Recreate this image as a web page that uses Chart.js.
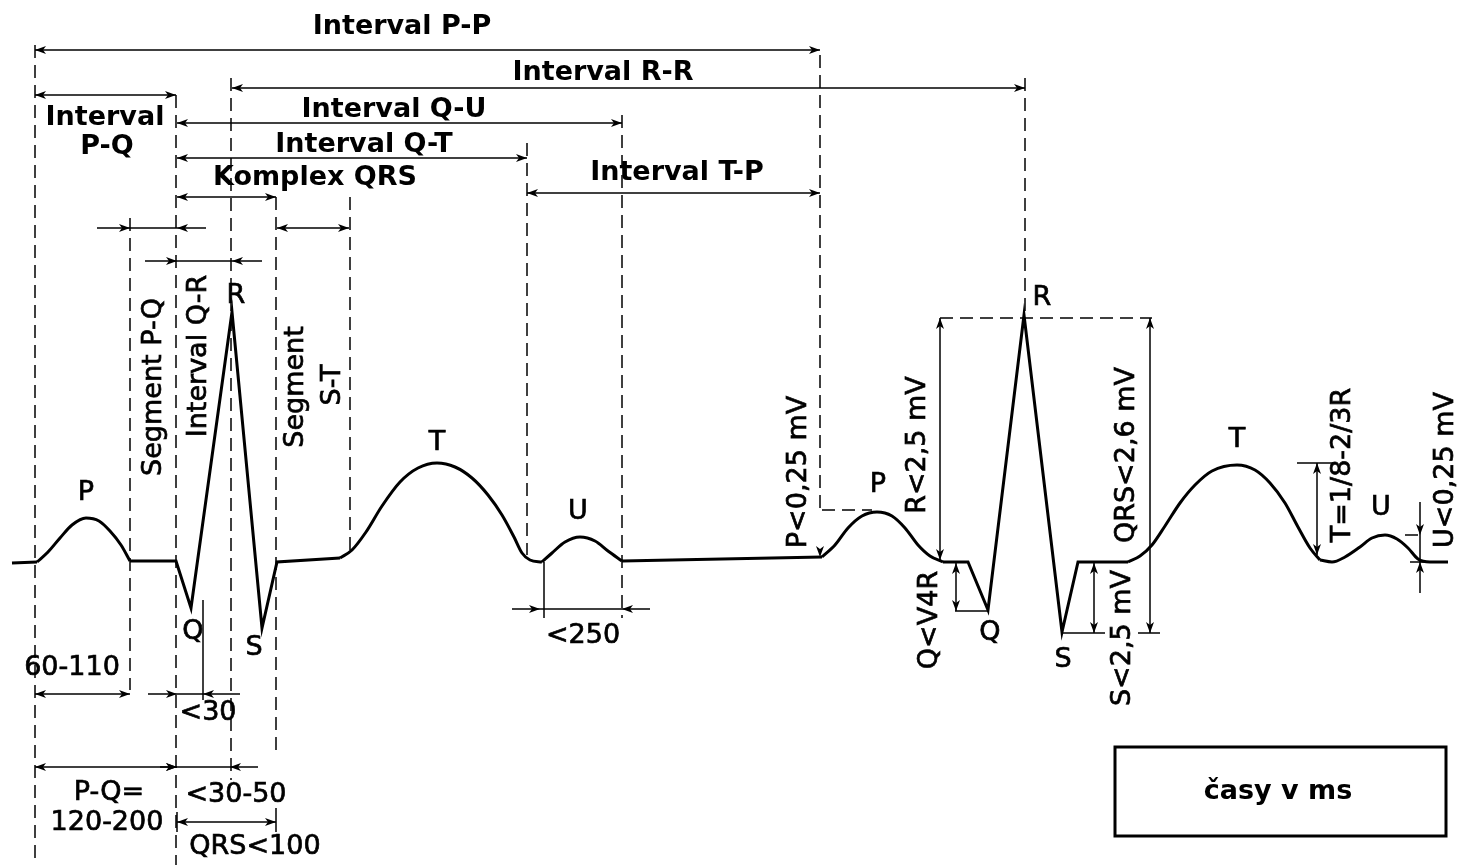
<!DOCTYPE html>
<html lang="cs">
<head>
<meta charset="utf-8">
<title>EKG křivka</title>
<script src="https://cdn.jsdelivr.net/npm/chart.js@4.4.1/dist/chart.umd.min.js"></script>
<style>
  html, body { margin: 0; padding: 0; background: #fff; }
  #ekg { display: block; }
</style>
</head>
<body>
<canvas id="ekg" width="1464" height="865"></canvas>
<script>
// Body křivky EKG (x = čas, y = výchylka v souřadnicích obrázku, osa y je otočená)
const bazeZacatek = [[12, 563], [37, 562]];
const vlnaP1 = [[37, 562], [48, 552], [60, 538], [72, 525], [86, 518], [99, 521], [110, 531], [121, 545], [130, 561]];
const kmitQRS1 = [[130, 561], [176, 561], [191, 608], [232, 312], [262, 628], [277, 562], [340, 558]];
const vlnaT1 = [[340, 558], [352, 550], [366, 532], [382, 506], [400, 482], [418, 468], [437, 463], [455, 467], [472, 478], [488, 495], [502, 515], [514, 537], [522, 553], [530, 560], [542, 562]];
const vlnaU1 = [[542, 562], [552, 553], [565, 542], [580, 537], [595, 541], [608, 551], [622, 561]];
const izolinie = [[622, 561], [822, 557]];
const vlnaP2 = [[822, 557], [835, 545], [848, 528], [862, 516], [877, 512], [892, 516], [905, 528], [918, 545], [930, 556], [943, 562]];
const kmitQRS2 = [[943, 562], [968, 562], [988, 610], [1024, 315], [1062, 632], [1078, 562], [1128, 562]];
const vlnaT2 = [[1128, 562], [1140, 556], [1152, 545], [1165, 526], [1180, 503], [1195, 485], [1212, 471], [1237, 465], [1255, 470], [1270, 483], [1285, 503], [1298, 527], [1310, 548], [1320, 560]];
const vlnaU2 = [[1320, 560], [1332, 562], [1345, 557], [1360, 547], [1372, 538], [1385, 535], [1397, 539], [1408, 548], [1418, 559], [1430, 562], [1448, 562]];

const useky = [
    { body: bazeZacatek, hladky: false },
    { body: vlnaP1, hladky: true },
    { body: kmitQRS1, hladky: false },
    { body: vlnaT1, hladky: true },
    { body: vlnaU1, hladky: true },
    { body: izolinie, hladky: false },
    { body: vlnaP2, hladky: true },
    { body: kmitQRS2, hladky: false },
    { body: vlnaT2, hladky: true },
    { body: vlnaU2, hladky: true },
];

// Svislé čárkované pomocné čáry: [x, od y, do y]
const svisleCarkovane = [
    [35, 45, 865], [130, 218, 690], [176, 95, 865], [231, 78, 780], [276, 197, 750],
    [350, 197, 555], [527, 143, 555], [622, 115, 618], [820, 55, 510], [1025, 78, 318]
];
// Vodorovné čárkované čáry: [x1, x2, y]
const vodorovneCarkovane = [[940, 1152, 318], [822, 872, 510], [1323, 1336, 463], [1405, 1425, 535]];
// Plné pomocné čáry: [x1, y1, x2, y2]
const plneCary = [
    [203, 600, 203, 700], [544, 562, 544, 618], [955, 611, 988, 611], [1062, 633, 1105, 633],
    [1138, 633, 1160, 633], [1297, 463, 1323, 463], [1410, 562, 1432, 562], [276, 808, 276, 832],
    [177, 812, 177, 832]
];

// Vodorovné kóty: [y, x1, x2, vnitřní šipky?, začátek čáry, konec čáry]
const kotyVodorovne = [
    [50, 35, 820, true], [88, 232, 1025, true], [95, 35, 176, true], [123, 177, 622, true],
    [158, 177, 527, true], [197, 177, 276, true], [193, 527, 820, true],
    [228, 130, 177, false, 97, 206], [228, 277, 349, true], [261, 177, 232, false, 145, 262],
    [694, 35, 130, true], [694, 177, 203, false, 148, 240], [767, 35, 177, true],
    [767, 177, 230, false, 160, 258], [822, 177, 276, true], [609, 540, 622, false, 512, 650]
];
// Svislé kóty: [x, y1, y2, vnitřní šipky?, začátek čáry, konec čáry]
const kotySvisle = [
    [940, 318, 560, true], [1150, 318, 633, true], [956, 563, 611, true], [1094, 563, 633, true],
    [1317, 463, 555, true], [1420, 535, 562, false, 502, 593]
];
// Jednotlivé šipky: [x, y, směr x, směr y]
const samostatneSipky = [[820, 557, 0, 1]];

// Texty: [text, x, y, tučně?]
const textyVodorovne = [
    ['Interval P-P', 402, 27, true], ['Interval R-R', 603, 73, true], ['Interval', 105, 118, true],
    ['P-Q', 107, 147, true], ['Interval Q-U', 394, 110, true], ['Interval Q-T', 364, 145, true],
    ['Komplex QRS', 315, 178, true], ['Interval T-P', 677, 173, true],
    ['60-110', 72, 668, false], ['<30', 208, 713, false], ['P-Q=', 109, 793, false],
    ['120-200', 107, 823, false], ['<30-50', 236, 795, false], ['QRS<100', 255, 847, false],
    ['<250', 583, 636, false],
    ['P', 86, 493, false], ['R', 236, 296, false], ['Q', 193, 632, false], ['S', 254, 648, false],
    ['T', 437, 443, false], ['U', 578, 512, false], ['P', 878, 485, false], ['R', 1042, 298, false],
    ['Q', 990, 633, false], ['S', 1063, 660, false], ['T', 1237, 440, false], ['U', 1381, 508, false],
    ['časy v ms', 1278, 792, true]
];
const textySvisle = [
    ['Segment P-Q', 154, 387], ['Interval Q-R', 199, 356], ['Segment', 296, 387], ['S-T', 333, 385],
    ['P<0,25 mV', 799, 472], ['R<2,5 mV', 918, 445], ['Q<V4R', 930, 620], ['QRS<2,6 mV', 1127, 455],
    ['S<2,5 mV', 1123, 638], ['T=1/8-2/3R', 1343, 465], ['U<0,25 mV', 1446, 470]
];
// Rámeček s poznámkou: [x1, y1, x2, y2]
const ramecek = [1115, 747, 1446, 836];

const PISMO = '"DejaVu Sans", sans-serif';

function sipka(ctx, px, py, ux, uy) {
    // hrot v (px, py), šipka míří ve směru (ux, uy)
    const d = 11, s = 4;
    const nx = -uy, ny = ux;
    ctx.beginPath();
    ctx.moveTo(px, py);
    ctx.lineTo(px - ux * d + nx * s, py - uy * d + ny * s);
    ctx.lineTo(px - ux * (d - 3), py - uy * (d - 3));
    ctx.lineTo(px - ux * d - nx * s, py - uy * d - ny * s);
    ctx.closePath();
    ctx.fill();
}

// obyčejný text trochu zesílíme obtažením, v předloze je písmo sytější
function text(ctx, t, x, y, tucne) {
    ctx.fillText(t, x, y);
    if (!tucne) ctx.strokeText(t, x, y);
}

const popisky = {
    id: 'popisky',
    afterDatasetsDraw(chart) {
        const ctx = chart.ctx;
        const X = v => chart.scales.x.getPixelForValue(v);
        const Y = v => chart.scales.y.getPixelForValue(v);
        ctx.save();
        ctx.strokeStyle = '#000';
        ctx.fillStyle = '#000';
        ctx.lineWidth = 1.5;

        // čárkované čáry
        ctx.setLineDash([13, 7]);
        svisleCarkovane.forEach(([x, y1, y2]) => {
            ctx.beginPath(); ctx.moveTo(X(x), Y(y1)); ctx.lineTo(X(x), Y(y2)); ctx.stroke();
        });
        vodorovneCarkovane.forEach(([x1, x2, y]) => {
            ctx.beginPath(); ctx.moveTo(X(x1), Y(y)); ctx.lineTo(X(x2), Y(y)); ctx.stroke();
        });
        ctx.setLineDash([]);

        plneCary.forEach(([x1, y1, x2, y2]) => {
            ctx.beginPath(); ctx.moveTo(X(x1), Y(y1)); ctx.lineTo(X(x2), Y(y2)); ctx.stroke();
        });

        // kóty
        kotyVodorovne.forEach(([y, a, b, vnitrni, c1, c2]) => {
            const z = vnitrni ? a : c1, k = vnitrni ? b : c2;
            ctx.beginPath(); ctx.moveTo(X(z), Y(y)); ctx.lineTo(X(k), Y(y)); ctx.stroke();
            const smer = vnitrni ? 1 : -1;
            sipka(ctx, X(a), Y(y), -smer, 0);
            sipka(ctx, X(b), Y(y), smer, 0);
        });
        kotySvisle.forEach(([x, a, b, vnitrni, c1, c2]) => {
            const z = vnitrni ? a : c1, k = vnitrni ? b : c2;
            ctx.beginPath(); ctx.moveTo(X(x), Y(z)); ctx.lineTo(X(x), Y(k)); ctx.stroke();
            const smer = vnitrni ? 1 : -1;
            sipka(ctx, X(x), Y(a), 0, -smer);
            sipka(ctx, X(x), Y(b), 0, smer);
        });
        samostatneSipky.forEach(([x, y, ux, uy]) => sipka(ctx, X(x), Y(y), ux, uy));

        // rámeček
        ctx.lineWidth = 3;
        ctx.strokeRect(X(ramecek[0]), Y(ramecek[1]), X(ramecek[2]) - X(ramecek[0]), Y(ramecek[3]) - Y(ramecek[1]));

        // texty
        ctx.lineWidth = 0.7;
        ctx.textAlign = 'center';
        ctx.textBaseline = 'middle';
        textyVodorovne.forEach(([t, x, y, tucne]) => {
            ctx.font = (tucne ? 'bold 27px ' : '27px ') + PISMO;
            text(ctx, t, X(x), Y(y), tucne);
        });
        ctx.font = '27px ' + PISMO;
        textySvisle.forEach(([t, x, y]) => {
            ctx.save();
            ctx.translate(X(x), Y(y));
            ctx.rotate(-Math.PI / 2);
            text(ctx, t, 0, 0, false);
            ctx.restore();
        });
        ctx.restore();
    }
};

new Chart(document.getElementById('ekg'), {
    type: 'scatter',
    data: {
        datasets: useky.map(u => ({
            data: u.body.map(([x, y]) => ({ x: x, y: y })),
            showLine: true,
            borderColor: '#000',
            borderWidth: 3,
            pointRadius: 0,
            cubicInterpolationMode: u.hladky ? 'monotone' : 'default',
            tension: u.hladky ? 0.4 : 0,
            fill: false
        }))
    },
    options: {
        responsive: false,
        devicePixelRatio: 1,
        animation: false,
        layout: { padding: 0 },
        plugins: { legend: { display: false }, tooltip: { enabled: false } },
        scales: {
            x: { type: 'linear', min: 0, max: 1464, display: false },
            y: { type: 'linear', min: 0, max: 865, reverse: true, display: false }
        }
    },
    plugins: [popisky]
});
</script>
</body>
</html>
